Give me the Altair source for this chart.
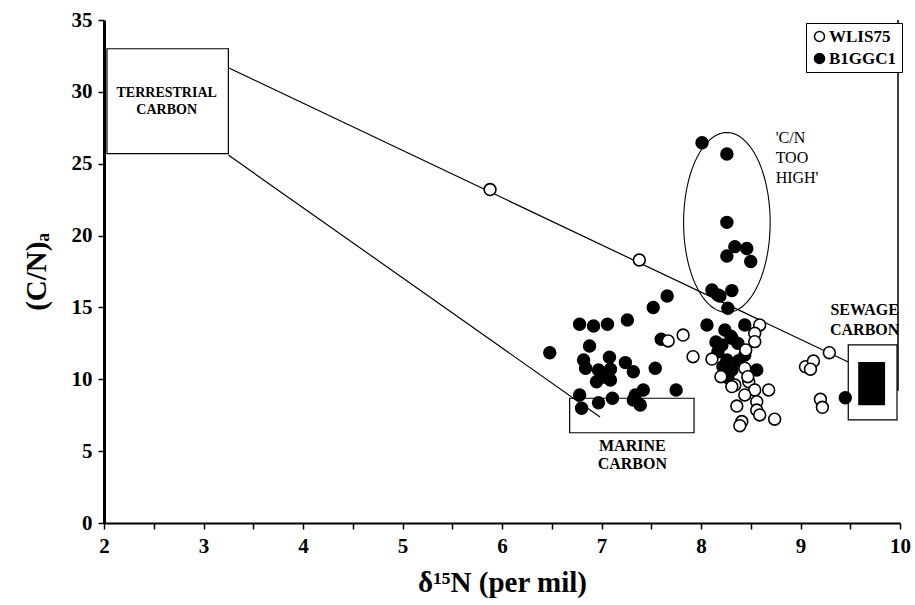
import numpy as np
import pandas as pd
import altair as alt

# ---- data ----
b1_x = [8.01, 8.26, 8.26, 8.34, 8.46, 8.26, 8.50, 8.11, 8.17, 8.31, 8.27, 7.66, 7.52, 7.26,
        6.78, 6.92, 7.06, 7.60, 6.48, 6.88, 6.82, 7.08, 7.24, 6.84, 6.97, 7.09, 7.32, 7.54,
        6.95, 7.09, 7.04, 6.78, 7.11, 6.97, 6.80, 7.34, 7.42, 7.39, 7.32, 8.06, 7.75, 8.24,
        8.44, 8.31, 8.21, 8.37, 8.17, 8.44, 8.26, 8.22, 8.31, 8.56, 8.19, 9.45, 8.27, 8.30,
        8.38, 8.15]
b1_y = [26.46, 25.68, 20.92, 19.23, 19.10, 18.58, 18.19, 16.21, 15.87, 16.17, 14.94, 15.80,
        15.00, 14.13, 13.83, 13.71, 13.83, 12.78, 11.85, 12.32, 11.34, 11.53, 11.16, 10.77,
        10.65, 10.70, 10.53, 10.77, 9.83, 9.95, 10.14, 8.91, 8.68, 8.37, 7.98, 8.91, 9.26,
        8.21, 8.56, 13.78, 9.26, 13.43, 13.78, 12.85, 12.39, 12.50, 11.92, 11.69, 11.34,
        10.88, 10.65, 10.65, 15.80, 8.72, 10.10, 13.00, 11.30, 12.60]

wl_x = [5.88, 7.38, 9.29, 8.59, 8.54, 8.54, 7.82, 7.67, 7.92, 8.11, 8.45, 8.44, 8.20, 8.34,
        8.48, 8.68, 8.54, 8.44, 8.56, 8.36, 8.56, 8.59, 8.74, 8.41, 8.39, 8.31, 8.47, 9.05,
        9.13, 9.10, 9.20, 9.22]
wl_y = [23.2, 18.3, 11.85, 13.78, 13.20, 12.62, 13.08, 12.67, 11.57, 11.41, 12.04, 10.77,
        10.18, 9.60, 9.83, 9.26, 9.26, 8.91, 8.44, 8.14, 7.86, 7.52, 7.22, 7.06, 6.77, 9.49,
        10.18, 10.88, 11.27, 10.70, 8.61, 8.05]

# source boxes: terrestrial, marine, sewage
box_names = ["TERRESTRIAL", "MARINE", "SEWAGE"]
box_x1 = [2.03, 6.68, 9.48]
box_x2 = [3.25, 7.93, 9.97]
box_y1 = [25.7, 6.28, 7.17]
box_y2 = [33.0, 8.68, 12.4]

# sewage hatched core
core_x1 = [9.58]
core_x2 = [9.85]
core_y1 = [8.2]
core_y2 = [11.2]

# mixing lines
line_x1 = [3.256, 3.25]
line_y1 = [31.66, 25.6]
line_x2 = [9.48, 6.985]
line_y2 = [11.2, 7.38]

# 'C/N too high' ellipse
ell_cx, ell_cy, ell_rx, ell_ry = [8.26], [20.91], [0.435], [6.26]

# annotations
ann_text = ["TERRESTRIAL", "CARBON", "SEWAGE", "CARBON", "MARINE", "CARBON"]
ann_size = [14, 14, 16, 16, 16, 16]
ann_x = [2.63, 2.63, 9.645, 9.645, 7.31, 7.31]
ann_y = [29.9, 28.75, 14.8, 13.4, 5.36, 4.1]
high_text = ["'C/N", "TOO", "HIGH'"]
high_x = [8.75, 8.75, 8.75]
high_y = [26.8, 25.4, 24.0]

x_ticks = [2 + 0.5 * i for i in range(17)]
y_ticks = [0, 5, 10, 15, 20, 25, 30, 35]

# ---- tables ----
pts = pd.concat([
    pd.DataFrame({"x": b1_x, "y": b1_y, "series": "B1GGC1"}),
    pd.DataFrame({"x": wl_x, "y": wl_y, "series": "WLIS75"}),
], ignore_index=True)
pts["order"] = range(len(pts))

boxes = pd.DataFrame({"name": box_names, "x1": box_x1, "x2": box_x2, "y1": box_y1, "y2": box_y2})
core = pd.DataFrame({"x1": core_x1, "x2": core_x2, "y1": core_y1, "y2": core_y2})
lines = pd.DataFrame({"x1": line_x1, "y1": line_y1, "x2": line_x2, "y2": line_y2})
t = np.linspace(0, 2 * np.pi, 121)
ell = pd.DataFrame({"x": ell_cx[0] + ell_rx[0] * np.cos(t),
                    "y": ell_cy[0] + ell_ry[0] * np.sin(t),
                    "i": range(len(t))})
ann = pd.DataFrame({"t": ann_text, "x": ann_x, "y": ann_y, "s": ann_size})
high = pd.DataFrame({"t": high_text, "x": high_x, "y": high_y})
frame = pd.DataFrame({"x": [9.98], "y1": [9.2], "y2": [35]})

FONT = "Liberation Serif"
xs = alt.Scale(domain=[2, 10], nice=False, zero=False)
ys = alt.Scale(domain=[0, 35], nice=False, zero=False)

X = alt.X("x1:Q", scale=xs, axis=alt.Axis(
    title="δ¹⁵N (per mil)", values=x_ticks,
    labelExpr="datum.value % 1 == 0 ? format(datum.value, 'd') : ''",
    domainWidth=2, titlePadding=12))
Y = alt.Y("y1:Q", scale=ys, axis=alt.Axis(
    title="(C/N)ₐ", values=y_ticks, format="d", domainWidth=3, titlePadding=20))

box_layer = alt.Chart(boxes).mark_rect(fill=None, stroke="black", strokeWidth=1.2).encode(
    x=X, x2="x2:Q", y=Y, y2="y2:Q")
core_layer = alt.Chart(core).mark_rect(fill="black").encode(
    x=alt.X("x1:Q", scale=xs), x2="x2:Q", y=alt.Y("y1:Q", scale=ys), y2="y2:Q")
line_layer = alt.Chart(lines).mark_rule(color="black", strokeWidth=1.2).encode(
    x=alt.X("x1:Q", scale=xs), y=alt.Y("y1:Q", scale=ys), x2="x2:Q", y2="y2:Q")
frame_layer = alt.Chart(frame).mark_rule(color="black", strokeWidth=1.5).encode(
    x=alt.X("x:Q", scale=xs), y=alt.Y("y1:Q", scale=ys), y2="y2:Q")
ell_layer = alt.Chart(ell).mark_line(color="black", strokeWidth=1.1).encode(
    x=alt.X("x:Q", scale=xs), y=alt.Y("y:Q", scale=ys), order="i:Q")
pt_layer = alt.Chart(pts).mark_point(filled=True, shape="circle", size=140, opacity=1,
                                     stroke="black", strokeWidth=1.6).encode(
    x=alt.X("x:Q", scale=xs), y=alt.Y("y:Q", scale=ys),
    fill=alt.Fill("series:N", scale=alt.Scale(domain=["WLIS75", "B1GGC1"], range=["white", "black"]),
                  legend=alt.Legend(title=None, orient="none", legendX=702, legendY=3,
                                    strokeColor="black", padding=5, fillColor="white",
                                    labelFont=FONT, labelFontWeight="bold", labelFontSize=17,
                                    labelColor="black", symbolType="circle", symbolSize=100,
                                    symbolStrokeColor="black", symbolStrokeWidth=1.5,
                                    symbolOpacity=1, rowPadding=4, labelOffset=1)),
    order="order:Q")
ann_layer = alt.Chart(ann).mark_text(font=FONT, fontWeight="bold", color="black").encode(
    x=alt.X("x:Q", scale=xs), y=alt.Y("y:Q", scale=ys), text="t:N",
    size=alt.Size("s:Q", scale=None, legend=None))
high_layer = alt.Chart(high).mark_text(font=FONT, fontSize=16, color="black", align="left").encode(
    x=alt.X("x:Q", scale=xs), y=alt.Y("y:Q", scale=ys), text="t:N")

chart = alt.layer(box_layer, core_layer, line_layer, frame_layer, ell_layer, pt_layer,
                  ann_layer, high_layer).properties(
    width=796, height=503,
    background="white",
    autosize=alt.AutoSizeParams(type="none"),
    padding={"left": 104, "top": 20, "right": 15, "bottom": 82},
).configure_view(stroke=None).configure_axis(
    grid=False, labelFont=FONT, labelFontWeight="bold", labelFontSize=21, labelColor="black",
    titleFont=FONT, titleFontWeight="bold", titleFontSize=29, titleColor="black",
    domainColor="black", tickColor="black", tickSize=6, tickWidth=1.5, labelPadding=6,
    labelFlush=False, labelOverlap=False
)

chart.save("out.html", embed_options={"renderer": "svg", "actions": False})
